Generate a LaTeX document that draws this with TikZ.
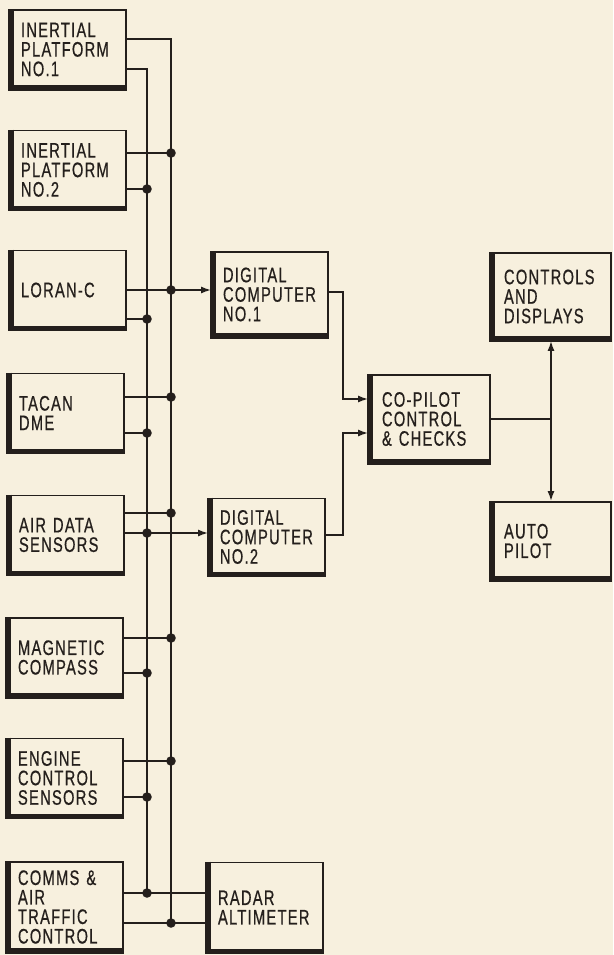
\documentclass[tikz,border=0pt]{standalone}
\usepackage{fontspec}
\setmainfont{Liberation Sans}[FakeStretch=0.7, LetterSpace=6, FakeBold=0.6]
\usepackage{xcolor}
\usepackage{tikz}
\usetikzlibrary{arrows.meta, positioning}
\definecolor{paper}{RGB}{247,240,222}
\definecolor{ink}{RGB}{36,31,28}

\begin{document}
\begin{tikzpicture}[
  x=1pt, y=-1pt,
  box/.style={rectangle, draw=ink, line width=1.7pt, minimum width=116pt, minimum height=79pt,
    text width=94pt, inner xsep=11pt, align=left, text=ink, font=\fontsize{21}{19.5}\selectfont},
  line/.style={draw=ink, line width=1.8pt},
  tap/.style={line, fill=ink},
  arrow/.style={line, -{Latex[length=10pt, width=7pt]}},
  heavy/.style={draw=ink, line width=5.5pt}
]

\useasboundingbox (0,0) rectangle (613,955);
\fill[paper] (0,0) rectangle (613,955);

\node[box] (plat1) at (68,49.5) {INERTIAL\\PLATFORM\\NO.1};
\node[box] (plat2) at (68,170) {INERTIAL\\PLATFORM\\NO.2};
\node[box] (loran) at (68,290) {LORAN-C};
\node[box] (tacan) at (66,413) {TACAN\\DME};
\node[box] (airdata) at (66,535) {AIR DATA\\SENSORS};
\node[box] (compass) at (65,657.5) {MAGNETIC\\COMPASS};
\node[box] (engine) at (65,778) {ENGINE\\CONTROL\\SENSORS};
\node[box, minimum height=90pt] (comms) at (65,907) {COMMS \&\\AIR\\TRAFFIC\\CONTROL};

\node[box, minimum height=85pt] (dc1) at (270,294.5) {DIGITAL\\COMPUTER\\NO.1};
\node[box, minimum height=77pt] (dc2) at (267,537) {DIGITAL\\COMPUTER\\NO.2};
\node[box, minimum height=90pt] (radar) at (265,907.5) {RADAR\\ALTIMETER};

\node[box, minimum width=121pt, text width=95pt, inner xsep=13pt, minimum height=88pt] (copilot) at (429.5,419) {CO-PILOT\\CONTROL\\\& CHECKS};
\node[box, minimum width=120pt, text width=94pt, inner xsep=13pt, minimum height=87pt] (controls) at (551,296.5) {CONTROLS\\AND\\DISPLAYS};
\node[box, minimum width=120pt, text width=94pt, inner xsep=13pt, minimum height=78pt] (autopilot) at (551,541) {AUTO\\PILOT};

\foreach \n in {plat1,plat2,loran,tacan,airdata,compass,engine,comms,dc1,dc2,radar,copilot,controls,autopilot}
  \draw[heavy] ([xshift=2pt]\n.north west) -- ([shift={(2pt,2pt)}]\n.south west) -- ([yshift=2pt]\n.south east);

\coordinate (rbus) at (171,0);
\coordinate (lbus) at (147,0);

\draw[line] (plat1.east |- 0,39) -| (rbus |- 0,923);
\draw[line] (plat1.east |- 0,69) -| (lbus |- 0,893);

\draw[tap] (plat2.east |- 0,153) -- (rbus |- 0,153) circle (3.8pt);
\draw[tap] (plat2.east |- 0,189) -- (lbus |- 0,189) circle (3.8pt);
\draw[tap] (loran.east |- 0,290) -- (rbus |- 0,290) circle (3.8pt);
\draw[tap] (loran.east |- 0,319) -- (lbus |- 0,319) circle (3.8pt);
\draw[tap] (tacan.east |- 0,397) -- (rbus |- 0,397) circle (3.8pt);
\draw[tap] (tacan.east |- 0,433) -- (lbus |- 0,433) circle (3.8pt);
\draw[tap] (airdata.east |- 0,513) -- (rbus |- 0,513) circle (3.8pt);
\draw[tap] (airdata.east |- 0,533) -- (lbus |- 0,533) circle (3.8pt);
\draw[tap] (compass.east |- 0,638) -- (rbus |- 0,638) circle (3.8pt);
\draw[tap] (compass.east |- 0,673) -- (lbus |- 0,673) circle (3.8pt);
\draw[tap] (engine.east |- 0,761) -- (rbus |- 0,761) circle (3.8pt);
\draw[tap] (engine.east |- 0,797) -- (lbus |- 0,797) circle (3.8pt);
\draw[tap] (comms.east |- 0,893) -- (lbus |- 0,893) circle (3.8pt);
\draw[tap] (comms.east |- 0,923) -- (rbus |- 0,923) circle (3.8pt);

\draw[arrow] (rbus |- 0,290) -- (dc1.west |- 0,290);
\draw[arrow] (lbus |- 0,533) -- (dc2.west |- 0,533);
\draw[line] (lbus |- 0,893) -- (radar.west |- 0,893);
\draw[line] (rbus |- 0,923) -- (radar.west |- 0,923);

\coordinate (merge) at (343,0);
\draw[arrow] (dc1.east |- 0,292) -| (merge |- 0,399) -- (copilot.west |- 0,399);
\draw[arrow] (dc2.east |- 0,535) -| (merge |- 0,433) -- (copilot.west |- 0,433);

\coordinate (split) at (controls.south |- copilot.east);
\draw[line] (copilot.east) -- (split);
\draw[arrow] (split) -- (controls.south);
\draw[arrow] (split) -- (autopilot.north);

\end{tikzpicture}
\end{document}
